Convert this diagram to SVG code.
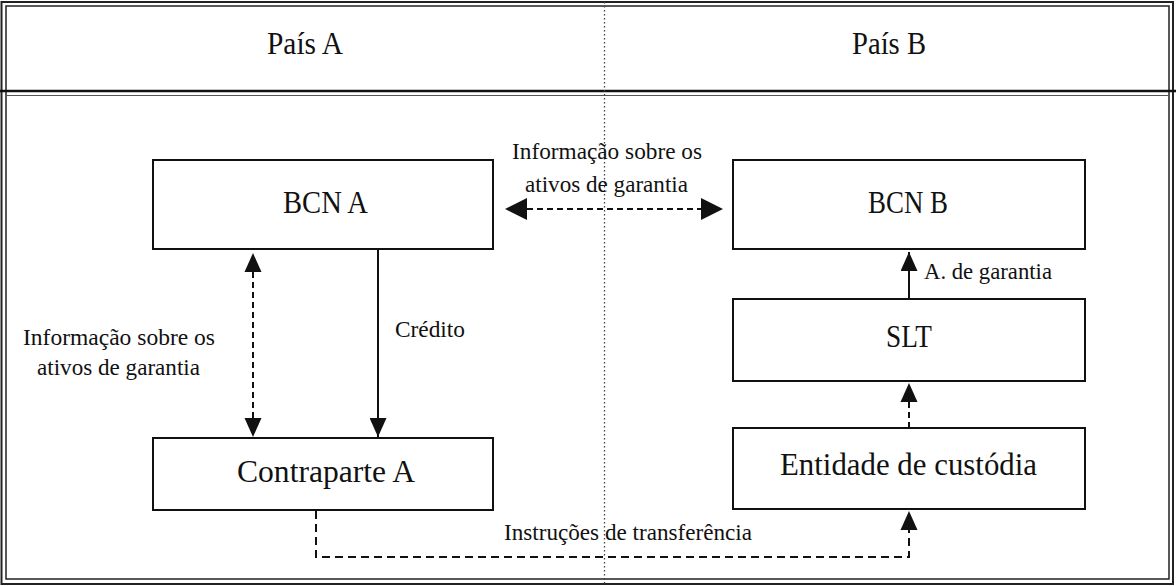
<svg xmlns="http://www.w3.org/2000/svg" width="1176" height="586" viewBox="0 0 1176 586">
<style>
  .frame { fill: none; stroke: #222; }
  .box { fill: #fff; stroke: #111; stroke-width: 2; }
  .big { font-family: "Liberation Serif", "Times New Roman", serif; font-size: 32px; fill: #111; text-anchor: start; }
  .lbl { font-family: "Liberation Serif", "Times New Roman", serif; font-size: 23px; fill: #111; text-anchor: start; }
  .conn { fill: none; stroke: #111; stroke-width: 2; }
  .dash { stroke-dasharray: 6 4; }
  .dashb { stroke-dasharray: 8 5; }
  .divider { stroke: #444; stroke-width: 1.3; stroke-dasharray: 1.5 2.5; fill: none; }
</style>
<defs>
  <marker id="ah" viewBox="0 0 19 17" refX="19" refY="8.5" markerWidth="19" markerHeight="17" markerUnits="userSpaceOnUse" orient="auto">
    <path d="M0,0 L19,8.5 L0,17 Z" fill="#111"/>
  </marker>
</defs>
<rect width="1176" height="586" fill="#fff"/>

<g id="frame">
  <rect class="frame" x="1.5" y="2" width="1171.5" height="582" stroke-width="2"/>
  <rect class="frame" x="6" y="6" width="1163" height="573" stroke-width="1.5"/>
  <line x1="0" y1="91" x2="1176" y2="91" stroke="#111" stroke-width="2.5"/>
  <line x1="6" y1="95.5" x2="1169" y2="95.5" stroke="#555" stroke-width="1.2"/>
  <line class="divider" x1="604.5" y1="2" x2="604.5" y2="584"/>
</g>

<g id="header-a">
  <text class="big" x="267" y="54" textLength="76" lengthAdjust="spacingAndGlyphs">País A</text>
</g>
<g id="header-b">
  <text class="big" x="852" y="54" textLength="74" lengthAdjust="spacingAndGlyphs">País B</text>
</g>

<g id="connectors">
  <line class="conn dash" x1="527" y1="209" x2="701" y2="209"/>
  <path d="M505,209 L527,198 L527,220 Z" fill="#111"/>
  <path d="M723,209 L701,198 L701,220 Z" fill="#111"/>
  <line class="conn dash" x1="253" y1="272" x2="253" y2="418"/>
  <path d="M253,253 L244.5,272 L261.5,272 Z" fill="#111"/>
  <path d="M253,437 L244.5,418 L261.5,418 Z" fill="#111"/>
  <line class="conn" x1="378" y1="250" x2="378" y2="437" marker-end="url(#ah)"/>
  <line class="conn" x1="909" y1="299" x2="909" y2="252" marker-end="url(#ah)"/>
  <line class="conn dash" x1="909" y1="428" x2="909" y2="402"/>
  <path d="M909,383 L900.5,402 L917.5,402 Z" fill="#111"/>
  <path class="conn dashb" d="M316,511 L316,557 L909,557 L909,530"/>
  <path d="M909,511 L900.5,530 L917.5,530 Z" fill="#111"/>
</g>

<g id="bcn-a">
  <rect class="box" x="153" y="160" width="340" height="89"/>
  <text class="big" x="283" y="213" textLength="85" lengthAdjust="spacingAndGlyphs">BCN A</text>
</g>
<g id="bcn-b">
  <rect class="box" x="733" y="160" width="352" height="89"/>
  <text class="big" x="868" y="213" textLength="80" lengthAdjust="spacingAndGlyphs">BCN B</text>
</g>
<g id="slt">
  <rect class="box" x="733" y="299" width="352" height="82"/>
  <text class="big" x="886" y="347" textLength="46" lengthAdjust="spacingAndGlyphs">SLT</text>
</g>
<g id="contraparte-a">
  <rect class="box" x="153" y="438" width="340" height="72"/>
  <text class="big" x="237" y="482" textLength="178" lengthAdjust="spacingAndGlyphs">Contraparte A</text>
</g>
<g id="entidade-custodia">
  <rect class="box" x="733" y="428" width="352" height="81"/>
  <text class="big" x="780" y="475" textLength="257" lengthAdjust="spacingAndGlyphs">Entidade de custódia</text>
</g>

<g id="labels">
  <text class="lbl" x="512" y="159" textLength="190" lengthAdjust="spacingAndGlyphs">Informação sobre os</text>
  <text class="lbl" x="525" y="192" textLength="163" lengthAdjust="spacingAndGlyphs">ativos de garantia</text>
  <text class="lbl" x="23" y="345" textLength="192" lengthAdjust="spacingAndGlyphs">Informação sobre os</text>
  <text class="lbl" x="37" y="375" textLength="163" lengthAdjust="spacingAndGlyphs">ativos de garantia</text>
  <text class="lbl" x="395" y="337" textLength="70" lengthAdjust="spacingAndGlyphs">Crédito</text>
  <text class="lbl" x="924" y="279" textLength="128" lengthAdjust="spacingAndGlyphs">A. de garantia</text>
  <text class="lbl" x="504" y="540" textLength="248" lengthAdjust="spacingAndGlyphs">Instruções de transferência</text>
</g>
</svg>
